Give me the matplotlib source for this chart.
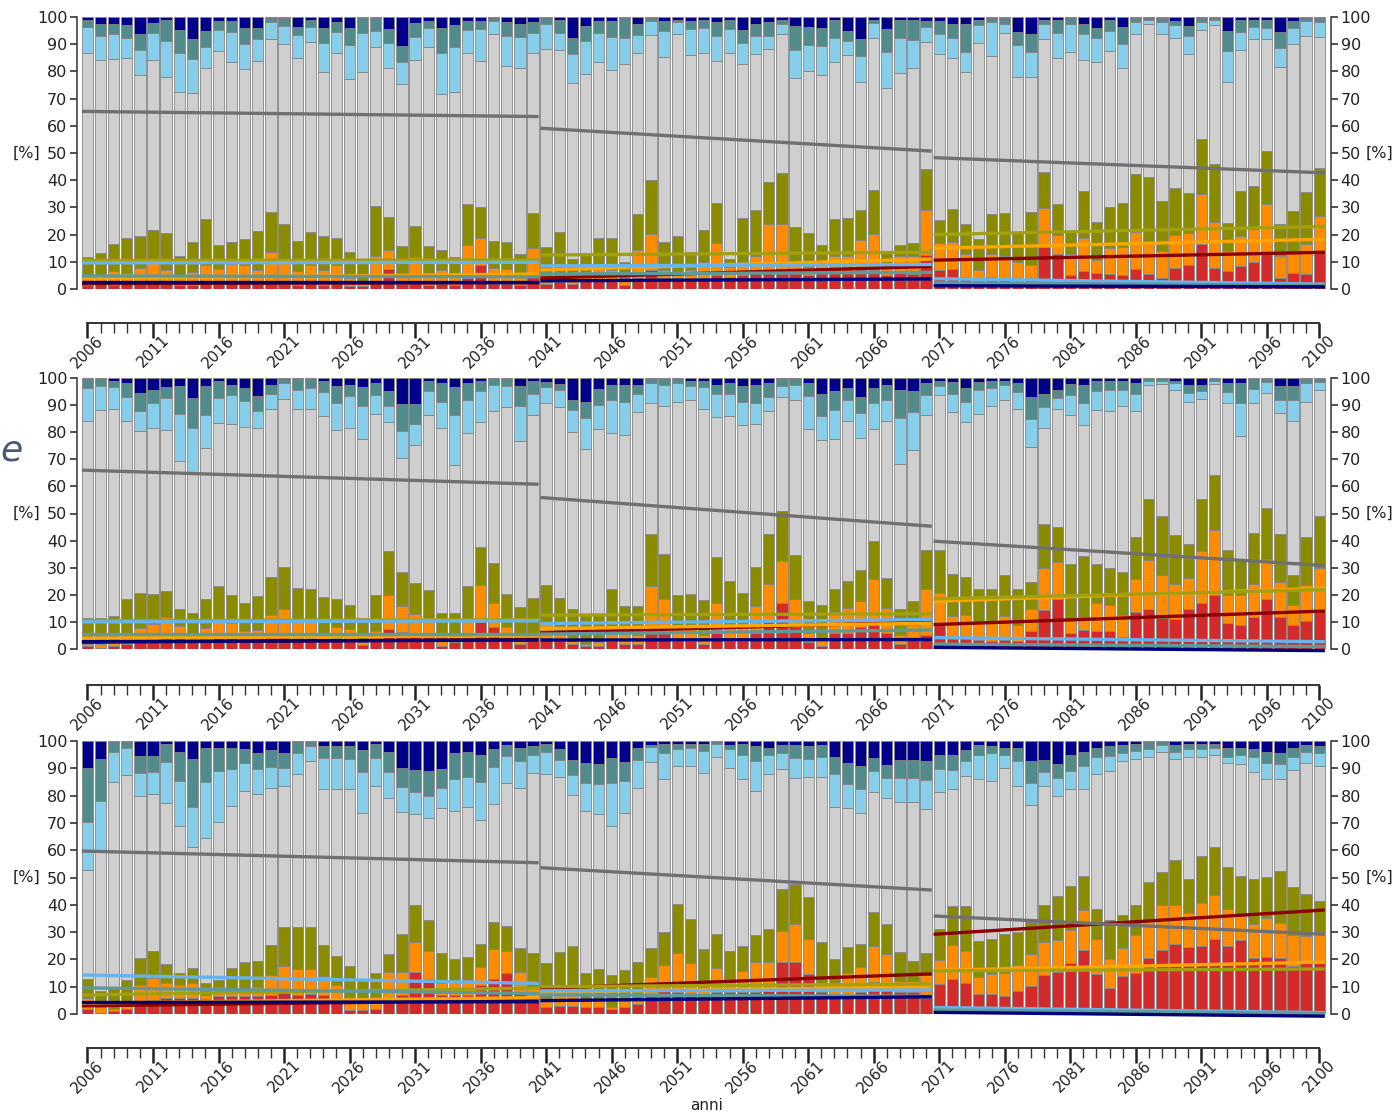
import numpy as np
import matplotlib.pyplot as plt
from matplotlib.ticker import MultipleLocator, FixedLocator

years = np.arange(2006, 2101)
periods = [(2006, 2040), (2041, 2070), (2071, 2100)]

# colori delle classi (dal basso verso l'alto) e delle rette di tendenza
bar_colors = ['#d42a2a', '#ff8c00', '#8b8b00', '#cfcfcf', '#87ceeb', '#528b8b', '#00008b']
trend_colors = ['#8b0000', '#ffa500', '#a0a010', '#707070', '#66b3ee', '#5f9a9a', '#00007a']

# ---- pannello 1: limiti superiori cumulati di ogni classe [%] ----
top1_red = [1.5, 2, 1.5, 2, 2, 2, 2, 1.5, 1.5, 2, 2, 2, 2.5, 2, 3, 2, 1.5, 2, 1.5, 2,
            1, 1, 2.5, 7.2, 2, 3, 1.5, 2, 1.5, 4, 8.8, 2, 2, 1.5, 5,
            2, 2.5, 2, 3, 3, 3, 1.5, 4, 7, 4, 4, 3.5, 4, 5, 4.5, 5, 6, 7, 7.5, 6,
            5, 6, 6, 6, 7, 7, 5, 6, 5.5, 12.6,
            7, 7.3, 4.5, 3, 4.5, 4, 2, 4, 15.6, 12.9, 5, 6.8, 6, 5.5, 5, 7.3, 5.6, 4, 7.7, 8.7,
            16.6, 7.7, 6.8, 8.3, 10.1, 12.9, 4, 5.9, 5.6, 13.8]
top1_orange = [4, 4.5, 6.7, 6, 7.8, 9.4, 7, 5, 6.3, 9, 7.5, 9.3, 9, 7, 13.7, 9.5, 6.5, 9, 7, 9,
               4, 3, 12.1, 14.3, 5, 11.6, 6, 7, 5, 16.1, 18.6, 7.6, 7.5, 5, 14.9,
               4, 5, 5, 6, 8, 7, 4, 14.3, 20.4, 7, 6, 7, 10, 17, 8, 10, 12, 23.8, 24, 9.5,
               8, 9, 12, 12, 18, 20.1, 8, 12, 12, 29,
               16.8, 17.2, 13, 7, 12.9, 12, 10.1, 9, 29.6, 19.9, 13, 18.7, 10.5, 15, 15.6, 20.9, 17.2, 14.1, 19.9, 20.5,
               34.9, 24.8, 13.8, 19.6, 22.1, 31.2, 12, 14, 16.6, 27]
top1_olive = [11.6, 13.4, 16.4, 18.9, 19.4, 21.6, 20.5, 12.3, 17.1, 25.6, 16.1, 17.3, 18.2, 21.2, 28.3, 24, 17.7, 20.8, 19.4, 18.9,
              13.7, 11.2, 30.6, 26.4, 15.8, 23.1, 15.8, 14.5, 11.6, 31.1, 30.2, 17.7, 17.3, 12.7, 28.1,
              15.5, 20.8, 11.2, 12.8, 18.8, 18.8, 10, 27.7, 40.2, 17.3, 19.4, 13.7, 21.6, 31.6, 11.2, 26.1, 29.2, 39.3, 42.5, 22.9,
              20.7, 16.2, 25.7, 26, 29, 36.3, 13.2, 16, 16.8, 44,
              25.4, 29.4, 23.9, 18.5, 27.4, 27.8, 20.7, 28.4, 43, 31.2, 21.5, 36.1, 24.8, 30.2, 31.5, 42.1, 41, 32.3, 37, 35.4,
              55, 46.1, 24.1, 36.1, 37.8, 50.6, 23.9, 28.8, 35.5, 44.5]
top1_gray = [86.7, 84.1, 84.5, 84.9, 78.6, 84.1, 77.8, 72.6, 72, 81.1, 87.4, 83.5, 81, 83.9, 91.8, 90, 85.1, 90.8, 79.9, 86.6,
             77.2, 79.9, 89.1, 81.4, 75.2, 84.1, 88.8, 71.7, 72.3, 86.6, 83.9, 93.6, 81.9, 81.4, 86.9,
             88.4, 87.8, 75.9, 79, 83.5, 80.6, 82.9, 86.9, 93.4, 85.3, 93.6, 86, 86.9, 83.9, 86.9, 82.7, 86.3, 88.2, 93.7, 77.6,
             80, 78.8, 83.3, 86, 76.2, 92.1, 73.8, 79.4, 81.1, 90.9,
             86.3, 84.9, 79.9, 90.6, 85.7, 94, 77.8, 77.8, 91.8, 85.1, 87, 84.1, 83.3, 87.6, 81.1, 93.9, 97.5, 93.9, 92.4, 86.3,
             95.1, 97, 76, 87.8, 91.8, 91.8, 81.5, 90, 93, 92.7]
top1_lblue = [96.3, 93, 93.6, 92.4, 87.8, 94.3, 91.2, 86.9, 84.4, 89, 95.2, 94.5, 90.2, 91.8, 98.2, 96.7, 93.3, 96.5, 90.6, 94.5,
              89.6, 94.3, 94.9, 90.4, 83.4, 92.7, 96.1, 86.7, 88.8, 95.1, 95.7, 98.5, 93, 92.7, 94,
              97.3, 94.3, 86.3, 91, 94, 92.7, 92.2, 93.3, 98.5, 94.9, 98.3, 95.5, 95.8, 93, 95.5, 90.4, 93, 93, 97.5, 87.8,
              89.6, 89.5, 92.4, 91, 85.7, 97.9, 87.2, 92.2, 91.6, 96.3,
              93.9, 92.2, 87, 97, 98, 97.3, 89.6, 87, 97.6, 94.3, 97.5, 93.7, 92.4, 94.9, 90.2, 98.3, 99, 98, 97, 93,
              98, 99, 87.6, 94.5, 96.5, 96, 88.5, 96, 98.5, 98]
top1_teal = [99, 97.3, 97.5, 97, 93.6, 97.9, 99, 95.1, 92, 94.9, 98.5, 98.5, 96.1, 96, 99.5, 99.7, 96.5, 99, 96, 98,
             96.1, 99.5, 99.5, 95.7, 89.4, 97.9, 98.5, 96, 96.9, 98.5, 98.5, 99.5, 98, 97.5, 98.3,
             99.5, 99, 92.4, 96.7, 98.5, 98.5, 99.5, 97.5, 99.5, 98.5, 99, 98.5, 99, 98, 99, 95.3, 97.5, 98, 99, 96.7,
             96.5, 96.1, 99, 94.9, 91.8, 99, 95.5, 99, 99, 98.5,
             98.5, 97.6, 97.6, 99, 99.5, 99.5, 94.5, 93.7, 99, 99, 99.5, 97.5, 96.1, 99, 96.5, 99.5, 99.5, 99.5, 98.5, 96.8,
             99.5, 99.5, 94.9, 99, 99, 99, 94.5, 98.5, 99.5, 99.5]

# ---- pannello 2 ----
top2_red = [1, 0.5, 1, 2, 3, 3.5, 4, 4, 3, 3, 4, 4, 3, 3.5, 5, 4.9, 4, 4, 3, 4,
            3, 1.5, 3, 7.3, 6.4, 6, 4.5, 1, 2.5, 4, 9.8, 8, 3, 2, 3,
            4, 3, 2, 1, 1, 3, 2, 2, 8.8, 6, 3, 3, 2, 7, 3, 3, 6, 10, 16.8, 8,
            2.5, 1, 6, 6, 8, 10, 6, 2, 4, 5,
            9.4, 4.5, 4.9, 3.5, 3, 3.5, 3, 6.7, 14.3, 18.6, 5.8, 7, 6.7, 6.7, 4.5, 13.5, 14.9, 11.3, 10.9, 14.9,
            17.1, 20, 9.7, 9, 11.9, 18.6, 11.9, 8.8, 10.4, 14]
top2_orange = [2, 2, 3, 6, 7.8, 9.4, 11.9, 8.4, 5, 7.8, 10, 9.5, 6.6, 7, 12.5, 14.8, 11, 10, 6, 8,
               7.5, 2.5, 6.5, 19.8, 15.8, 12.9, 11.6, 4, 6, 11.6, 23.5, 17.1, 8.2, 5, 6,
               10, 7, 3, 2, 2.5, 8.2, 6, 5, 23.1, 18.6, 8, 8, 5, 17, 9, 8, 15.9, 24.1, 32.3, 18.6,
               6, 4, 13.5, 15.1, 17.7, 25.7, 15, 5, 9, 22.3,
               20.7, 12.2, 12.7, 10.4, 9.7, 12.2, 8.8, 14.6, 29.9, 32.1, 10.9, 11.9, 17.1, 16.2, 12.5, 25.9, 32.7, 27.4, 24.1, 26.2,
               36, 44, 20, 20, 24.1, 33.3, 24.7, 16.4, 23.5, 29.9]
top2_olive = [11.5, 11.3, 12.1, 18.6, 20.7, 20.2, 21.3, 14.9, 13.1, 18.6, 23.3, 19.8, 17.1, 19.6, 26.6, 30.2, 22.5, 22.3, 19.2, 18.6,
              16.2, 11.3, 20.1, 36.1, 28.4, 24.4, 21.7, 13.3, 13.1, 23.1, 37.8, 31.8, 20.4, 15.5, 19,
              23.5, 19, 14.9, 12.7, 12.5, 22, 15.8, 15.8, 42.5, 35.1, 19.8, 20.2, 18.2, 33.9, 25.1, 20.8, 30.2, 42.5, 50.8, 34.8,
              17.7, 16.2, 22.3, 25.1, 29, 39.8, 26.3, 14.6, 17.6, 36.4,
              36.4, 27.8, 26.6, 22.3, 22.3, 27.2, 22.3, 24.7, 46.1, 44.9, 31.5, 34.5, 31.5, 29.9, 28.4, 41.2, 55.3, 49, 41.9, 38.8,
              55.3, 64.1, 36.4, 32.7, 42.7, 52, 42.5, 27.2, 41.2, 49]
top2_gray = [84.1, 88.1, 88.4, 84.1, 80.4, 81.6, 80.8, 69.2, 65.1, 74.3, 83.5, 83.2, 81.9, 81.4, 88.7, 92.4, 88.7, 88.7, 85.9, 80.8,
             81.4, 77.4, 86.9, 83.7, 70.3, 75.3, 86.3, 81.4, 67.8, 79.8, 83.7, 87.8, 89.2, 76.7, 86.5,
             90.6, 89.4, 80.2, 73.9, 81, 79.8, 78.9, 87.4, 90.6, 89.8, 91.2, 92, 88.4, 85.6, 85.9, 82.6, 82.9, 87.8, 92.9, 91.7,
             81, 77.1, 77.6, 84.3, 78, 81, 84.1, 68.4, 73.3, 86.5,
             93.6, 87.4, 83.7, 86.8, 89.6, 91.8, 88.6, 74.5, 81.6, 88.4, 86.5, 82.6, 88.1, 88, 89.8, 88, 97.6, 97.9, 95.7, 91.1,
             92.4, 97.8, 90.6, 78.6, 90.8, 94.5, 87.1, 84.1, 91.2, 95.5]
top2_lblue = [96.3, 96.9, 96.5, 93, 88, 90.6, 92.7, 86.8, 81.4, 86.5, 92.7, 93.6, 91.4, 88, 94.2, 98.2, 95.5, 96.3, 94.9, 90.8,
              93.3, 89.6, 93.6, 89.6, 80.4, 82.9, 95.3, 91.2, 86.5, 91.8, 95.1, 97.6, 97, 89.6, 94.1,
              96.7, 95.5, 88.1, 85.1, 90, 91.7, 91.2, 94.1, 98.2, 97.3, 98, 96.9, 96.6, 94, 94.1, 91.2, 90.6, 92.9, 97, 97.5,
              93.3, 85.9, 88.1, 92, 87.1, 90.8, 91.8, 85.1, 87.4, 93.9,
              96.9, 94.1, 91.2, 95.7, 96.3, 97.6, 94.9, 84.9, 89.2, 92.7, 93.6, 90.8, 95.1, 95.7, 95.5, 94.2, 99, 99, 98, 94.5,
              95.1, 99, 95, 90.8, 96, 98.5, 92, 92, 98, 98.5]
top2_teal = [99.5, 99.5, 99, 98.2, 94.5, 95.5, 96.7, 96.9, 92.7, 97, 99, 97.5, 96.3, 93.3, 97.6, 99.5, 99.5, 99.5, 99, 96.9,
             97.5, 96.5, 98, 95.1, 90.5, 90.5, 99, 98, 96.7, 98, 99, 99.5, 99.5, 96.9, 98.8,
             98.5, 97.9, 91.8, 91.2, 96.1, 97.3, 97.5, 97.6, 99.5, 99.5, 99.5, 99, 99, 97.5, 98, 96.9, 97.5, 98, 99.5, 99.5,
             98, 94.2, 95.1, 96.3, 93, 96.3, 97.6, 95.5, 95.1, 98.2,
             99, 98.5, 96.3, 98.5, 99, 99, 98.2, 92.9, 94.1, 95.5, 97.8, 97.5, 99, 99, 99, 98.2, 99.5, 99.5, 99, 97.3,
             97.3, 99.5, 98, 98, 99.5, 99.5, 97, 97, 99.5, 99.5]

# ---- pannello 3 ----
top3_red = [2, 0.5, 1, 2, 4.5, 5, 6, 6, 6, 5.5, 6.5, 6.5, 6.5, 6.5, 7, 7.6, 7, 7.5, 7, 5.5,
            1.5, 1.5, 2, 6, 7, 15.5, 12.8, 7, 7, 7, 10.5, 13, 14.9, 8, 4.5,
            2.5, 3, 3, 2.5, 2.5, 2, 2.5, 3.5, 6.5, 8.5, 8.2, 7.8, 7.5, 8, 8, 8, 8, 9, 19.2, 19.2,
            14.7, 8, 7.5, 7, 8, 11.8, 9, 8, 8, 5.7,
            10.9, 12.7, 11.5, 7.2, 7.2, 6.6, 8.4, 10.4, 14.3, 15.3, 18.6, 23.4, 14.7, 9.5, 14, 15, 20.5, 23.5, 25.5, 24.5,
            25, 27.5, 25, 27, 20.5, 21, 20.5, 17.5, 18.5, 18.5]
top3_orange = [5.7, 2.7, 2, 4, 10.6, 13.1, 11.2, 10.6, 11.2, 7, 10, 9.5, 8, 10, 14.3, 17.7, 16.5, 16.4, 14, 10.6,
               5.5, 4, 4.5, 15.3, 15.3, 26.5, 23.1, 11.2, 11.8, 12.5, 17.1, 23.7, 23.1, 15.5, 10,
               6, 7, 7.5, 5, 5, 2.7, 6.3, 5, 13.4, 17.9, 22.2, 18.6, 10, 16.7, 12.7, 15.9, 18.9, 18.9, 30.5, 32.8,
               27.4, 10.6, 11.2, 14.9, 17.1, 24.9, 22, 12, 12, 14.3,
               19.8, 25.3, 23.1, 13.7, 14.5, 14.9, 17.9, 22, 26.3, 27.1, 30.8, 38.1, 27.4, 20, 24, 29, 34, 40, 40, 37,
               40.5, 43.5, 38.5, 36.5, 33, 35, 33.5, 29, 28.5, 30]
top3_olive = [12.7, 8.4, 9, 12.5, 20.6, 23.1, 18.2, 15.1, 16.7, 11.5, 12.5, 17, 19.2, 19.5, 25.3, 31.7, 31.7, 31.7, 25.3, 21.4,
              17.7, 12.5, 14.9, 21.9, 29.2, 39.9, 34.4, 22.2, 20, 21, 25.5, 33.6, 32.4, 24.1, 22.2,
              18.6, 22.8, 24.9, 14.9, 16.5, 14.3, 16.1, 19.2, 24.3, 30.2, 40.3, 34.7, 23.7, 29.2, 23.1, 24.9, 28.9, 31, 45.7, 47.6,
              42.7, 26.5, 20, 24.7, 25.6, 37.5, 32.8, 22.8, 19.4, 22.2,
              31.1, 39.6, 39.6, 26.7, 27.5, 29.2, 30.2, 33.8, 39.9, 43.2, 47, 50.7, 38.5, 34.4, 36.3, 40, 48.5, 52.1, 56.4, 49.5,
              58, 61.3, 53.7, 50.7, 49.5, 50.3, 52.4, 46.6, 43.8, 41.4]
top3_gray = [52.7, 60.1, 84.9, 87.5, 79.9, 80.6, 77.4, 69, 61.3, 64.6, 70.5, 76.3, 81.8, 80.5, 82.7, 83.5, 87.9, 92.8, 82.3, 82.4,
             82.4, 73.5, 83.5, 79, 73.9, 73.1, 71.7, 75.3, 74.4, 75.9, 71.1, 76.9, 84.7, 82.9, 88.2,
             87.9, 86.7, 80.2, 74.5, 73.3, 69, 73.5, 82.9, 92.2, 86.1, 91, 91, 88.4, 94.3, 90.2, 86, 81.7, 87.9, 89.6, 86.3,
             86.9, 86.9, 75.9, 75.6, 73.5, 81.2, 79.2, 77.8, 77.8, 75.1,
             81.2, 82.5, 87, 86, 85.5, 90, 83.5, 76.5, 83.5, 80, 82.5, 82.5, 88, 89, 92.5, 93.5, 94, 96, 93.5, 94,
             94, 95, 92, 91.5, 88.5, 86, 86, 89.5, 92, 91]
top3_lblue = [70.2, 78.1, 96.1, 97.3, 88.2, 88.8, 92.4, 85.3, 75.9, 85.1, 89, 89.7, 92.1, 89.6, 90.4, 90, 95.7, 98, 93.9, 93.7,
              93.5, 88.8, 93.7, 88.8, 83.3, 81.2, 80, 82.7, 86.1, 86.9, 85.1, 90.4, 94.5, 92.7, 94.9,
              95.8, 93, 87.5, 84.5, 84.1, 84.5, 85.3, 93, 97.9, 95.5, 97, 97.6, 96.5, 98.8, 97, 94.9, 92.8, 95, 95.5, 93.9,
              93.5, 94.3, 87.8, 84.1, 82.3, 89, 86.6, 86.6, 86.6, 85.7,
              89.6, 89.5, 92.5, 95, 95.5, 95, 92.5, 84.5, 88.5, 86.5, 89, 91, 94, 94.5, 95.5, 96.5, 97, 98.5, 96, 97,
              97, 97.5, 94, 95, 94, 92, 91.5, 94, 96, 95.5]
top3_teal = [90, 93.4, 99.5, 99.5, 94.6, 94.6, 99, 96.1, 93.4, 97.3, 97.5, 97.5, 97, 95.5, 96.7, 95.7, 99.5, 99.5, 98.3, 98,
             98, 96.7, 99, 96.1, 90.2, 89.4, 89, 89.6, 95.5, 96.1, 94.9, 97.1, 98.5, 97.6, 98,
             99, 97.1, 93, 91.8, 91.5, 93.7, 92.4, 97.3, 98.5, 99, 99, 99, 99, 99.5, 98.5, 99, 98.3, 97.3, 98.5, 98.5,
             98, 98.5, 94.3, 91.8, 91, 93.7, 91.2, 93, 93, 92.7,
             94.9, 95, 96.7, 98.5, 98, 97.5, 97.5, 92.5, 93, 91.5, 95, 96, 97.5, 98, 98.5, 99, 99.5, 99.5, 98.5, 99,
             99, 99, 97.5, 97.5, 97, 96, 95.5, 97.5, 98.5, 98]

# ---- rette di tendenza: (inizio, fine) per i tre periodi ----
trend1 = [[2.0, 2.3, 4.0, 8.3, 10.6, 13.5],      # rosso
          [4.0, 5.5, 7.0, 11.0, 15.0, 18.3],     # arancio
          [10.5, 10.7, 12.5, 13.5, 20.0, 23.0],  # oliva
          [65.3, 63.4, 59.1, 50.7, 48.3, 42.7],  # grigio
          [9.6, 9.8, 8.5, 9.0, 3.8, 1.8],        # azzurro
          [4.8, 4.5, 5.5, 6.1, 2.3, 1.3],        # verde acqua
          [2.7, 2.7, 3.0, 3.7, 1.2, 0.8]]        # blu
trend2 = [[2.5, 3.5, 6.0, 10.0, 9.0, 14.0],
          [4.0, 5.0, 7.5, 9.5, 17.6, 22.4],
          [10.5, 10.8, 12.5, 13.0, 18.5, 21.9],
          [66.0, 60.8, 55.9, 45.3, 39.8, 30.8],
          [10.0, 10.4, 9.4, 10.9, 4.2, 2.7],
          [5.4, 5.4, 5.5, 7.0, 1.8, 0.9],
          [2.7, 3.3, 3.3, 3.5, 0.6, -0.6]]
trend3 = [[3.0, 5.0, 9.4, 14.7, 29.2, 38.1],
          [4.0, 6.0, 8.0, 10.0, 16.0, 19.0],
          [7.0, 9.5, 10.0, 11.0, 15.8, 16.5],
          [59.7, 55.4, 53.6, 45.4, 35.9, 29.2],
          [14.3, 11.2, 8.5, 8.8, 2.4, 0.5],
          [9.6, 7.5, 7.0, 6.5, 1.5, 0.2],
          [4.2, 4.5, 4.9, 6.3, 0.6, -0.8]]

panels = [
    ([top1_red, top1_orange, top1_olive, top1_gray, top1_lblue, top1_teal], trend1),
    ([top2_red, top2_orange, top2_olive, top2_gray, top2_lblue, top2_teal], trend2),
    ([top3_red, top3_orange, top3_olive, top3_gray, top3_lblue, top3_teal], trend3),
]

fig = plt.figure(figsize=(13.95, 11.14), dpi=100)
W, H = 1395.0, 1114.0
left = 77 / W
width = (1331 - 77) / W
panel_px = [(17, 289, 323), (378, 649, 685), (741, 1014, 1048)]  # top, bottom, asse anni

for (tops, trend), (ytop, ybot, yaxis) in zip(panels, panel_px):
    ax = fig.add_axes([left, 1 - ybot / H, width, (ybot - ytop) / H])
    cum = np.vstack([np.zeros(len(years))] + [np.array(t, float) for t in tops]
                    + [np.full(len(years), 100.0)])
    seg = np.diff(cum, axis=0)
    for k in range(7):
        ax.bar(years, seg[k], bottom=cum[k], width=0.86, color=bar_colors[k],
               edgecolor='#858585', linewidth=0.6, zorder=2)
    for k in range(7):
        for p, (y0, y1) in enumerate(periods):
            ax.plot([y0 - 0.43, y1 + 0.43], [trend[k][2 * p], trend[k][2 * p + 1]],
                    color=trend_colors[k], lw=2.4, solid_capstyle='butt',
                    zorder=3, clip_on=False)
    ax.set_xlim(2005.2, 2100.9)
    ax.set_ylim(0, 100)
    ax.yaxis.set_major_locator(MultipleLocator(10))
    ax.tick_params(axis='y', which='major', direction='out', length=5, width=1.1,
                   labelsize=11.5, right=True, labelright=True, colors='#222222', pad=2)
    ax.set_xticks([])
    for s in ['top', 'bottom']:
        ax.spines[s].set_visible(False)
    for s in ['left', 'right']:
        ax.spines[s].set_linewidth(1.1)
        ax.spines[s].set_color('#333333')
    ax.text(-0.0295, 0.5, '[%]', transform=ax.transAxes, ha='right', va='center',
            fontsize=11.5, color='#222222')
    ax.text(1.028, 0.5, '[%]', transform=ax.transAxes, ha='left', va='center',
            fontsize=11.5, color='#222222')

    # asse degli anni separato sotto ogni pannello
    tx = fig.add_axes([left, 1 - yaxis / H, width, 0.0001])
    tx.set_xlim(2005.2, 2100.9)
    tx.set_yticks([])
    for s in ['top', 'left', 'right']:
        tx.spines[s].set_visible(False)
    tx.spines['bottom'].set_bounds(2006, 2100)
    tx.spines['bottom'].set_linewidth(1.4)
    tx.spines['bottom'].set_color('#333333')
    major = list(range(2006, 2100, 5)) + [2100]
    tx.xaxis.set_major_locator(FixedLocator(major))
    tx.xaxis.set_minor_locator(FixedLocator(list(years)))
    tx.set_xticklabels([str(y) for y in major], rotation=45, ha='center',
                       fontsize=11, color='#222222')
    tx.tick_params(axis='x', which='major', direction='out', length=11, width=1.8,
                   pad=-4, colors='#222222')
    tx.tick_params(axis='x', which='minor', direction='out', length=7.5, width=1.0,
                   colors='#333333')

fig.text(707 / W, 1 - 1106 / H, 'anni', ha='center', va='center', fontsize=11,
         color='#222222')
fig.text(0.0, 1 - 450 / H, 'e', ha='left', va='center', fontsize=26,
         style='italic', color='#4a5878')

fig.savefig('out.png', dpi=100)
